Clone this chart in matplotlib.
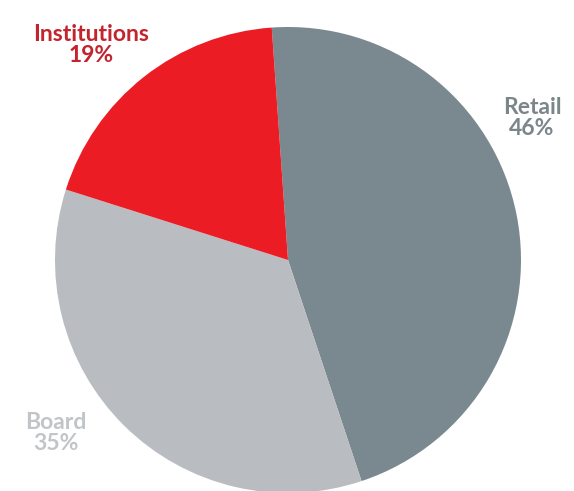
import matplotlib.pyplot as plt

labels = ['Retail', 'Board', 'Institutions']
shares = [46, 35, 19]
colors = ['#7a8990', '#b9bdc1', '#ec1c24']
label_colors = ['#7b868b', '#c2c5c8', '#c3242d']

W, H = 574, 491
fig = plt.figure(figsize=(W / 100, H / 100), dpi=100)
ax = fig.add_axes([0, 0, 1, 1])

# pie centre / radius in pixel units (y measured from the bottom)
ax.pie(shares, colors=colors, startangle=94, counterclock=False,
       center=(288, H - 260), radius=233, frame=True,
       wedgeprops=dict(linewidth=0))
ax.set_xlim(0, W)
ax.set_ylim(0, H)
ax.axis('off')

# label positions (pixel coords from top)
label_pos = {'Retail': (532, 118), 'Board': (56, 433), 'Institutions': (91, 45)}
for name, val, c in zip(labels, shares, label_colors):
    x, y = label_pos[name]
    ax.text(x, H - y, f'{name}\n{val}%', ha='center', va='center',
            fontsize=16.5, fontweight='bold', color=c, family=['Lato', 'DejaVu Sans'],
            linespacing=0.95)

fig.savefig('out.png', dpi=100)
